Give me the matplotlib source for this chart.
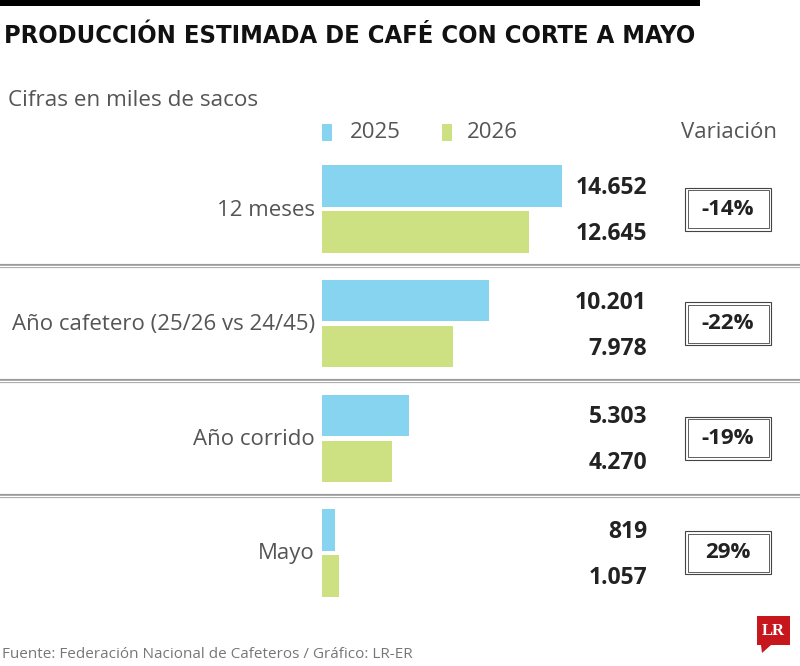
import matplotlib
matplotlib.use("Agg")
import matplotlib.pyplot as plt
from matplotlib.transforms import blended_transform_factory
from matplotlib.patches import Rectangle, Polygon
from matplotlib.lines import Line2D

categories = ["12 meses", "Año cafetero (25/26 vs 24/45)", "Año corrido", "Mayo"]
values_2025 = [14652, 10201, 5303, 819]
values_2026 = [12645, 7978, 4270, 1057]
labels_2025 = ["14.652", "10.201", "5.303", "819"]
labels_2026 = ["12.645", "7.978", "4.270", "1.057"]
variations = ["-14%", "-22%", "-19%", "29%"]

BLUE = "#86d4ef"
GREEN = "#cde082"
GRAY = "#555555"
DARK = "#222222"

W, H = 800, 666
fig = plt.figure(figsize=(W / 100, H / 100), dpi=100)
fig.patch.set_facecolor("white")

def fx(px):
    return px / W

def fy(py):
    return 1 - py / H

REG = ["Open Sans", "DejaVu Sans"]

# bar axes
top_px, bot_px = 209 - 57.3, 553 + 57.3
ax = fig.add_axes([fx(322), fy(bot_px), fx(300), (bot_px - top_px) / H])
ax.set_xlim(0, 14652 * 300 / 240)
ax.set_ylim(3.5, -0.5)
ax.axis("off")

ypos = list(range(len(categories)))
off = 0.2
bh = 0.36
ax.barh([y - off for y in ypos], values_2025, height=bh, color=BLUE, align="center")
ax.barh([y + off for y in ypos], values_2026, height=bh, color=GREEN, align="center")

tr = blended_transform_factory(fig.transFigure, ax.transData)
dy = 2 / 114.67  # small downward nudge for text

for i, y in enumerate(ypos):
    ax.text(fx(315), y + dy / 2, categories[i], transform=tr, ha="right", va="center",
            fontsize=16, color=GRAY, family=REG)
    ax.text(fx(647), y - off + dy, labels_2025[i], transform=tr, ha="right", va="center",
            fontsize=16.5, color=DARK, fontweight="bold", family=REG)
    ax.text(fx(647), y + off + dy, labels_2026[i], transform=tr, ha="right", va="center",
            fontsize=16.5, color=DARK, fontweight="bold", family=REG)
    # variation box (double border)
    bx0, bx1 = fx(685), fx(771)
    bhh = 43 / 114.67
    outer = Rectangle((bx0, y - bhh / 2), bx1 - bx0, bhh, transform=tr,
                      fill=False, edgecolor="#444444", linewidth=0.8, clip_on=False)
    ins_x = 2.5 / W
    ins_y = 2.5 / 114.67
    inner = Rectangle((bx0 + ins_x, y - bhh / 2 + ins_y), bx1 - bx0 - 2 * ins_x,
                      bhh - 2 * ins_y, transform=tr, fill=False,
                      edgecolor="#444444", linewidth=0.6, clip_on=False)
    fig.add_artist(outer)
    fig.add_artist(inner)
    ax.text((bx0 + bx1) / 2, y, variations[i], transform=tr, ha="center", va="center",
            fontsize=16, color=DARK, fontweight="bold", family=REG)

# separators (double gray lines)
for y in [0.5, 1.5, 2.5]:
    fig.add_artist(Line2D([0, 1], [y, y], transform=tr, color="#9a9a9a", linewidth=3))
    fig.add_artist(Line2D([0, 1], [y, y], transform=tr, color="white", linewidth=1))

# top black bar
fig.add_artist(Rectangle((0, fy(6)), fx(700), 6 / H, transform=fig.transFigure,
                         color="black", linewidth=0))

fig.text(fx(4), fy(36), "PRODUCCIÓN ESTIMADA DE CAFÉ CON CORTE A MAYO",
         ha="left", va="center", fontsize=18.3, fontweight="bold", color="#111111",
         family="DejaVu Sans", fontstretch="condensed")
fig.text(fx(8), fy(100), "Cifras en miles de sacos", ha="left", va="center",
         fontsize=16.2, color=GRAY, family=REG)

# legend
fig.add_artist(Rectangle((fx(322), fy(141)), 10 / W, 17 / H, transform=fig.transFigure,
                         color=BLUE, linewidth=0))
fig.text(fx(350), fy(132), "2025", ha="left", va="center", fontsize=16, color=GRAY, family=REG)
fig.add_artist(Rectangle((fx(442), fy(141)), 10 / W, 17 / H, transform=fig.transFigure,
                         color=GREEN, linewidth=0))
fig.text(fx(467), fy(132), "2026", ha="left", va="center", fontsize=16, color=GRAY, family=REG)
fig.text(fx(777), fy(132), "Variación", ha="right", va="center", fontsize=16, color=GRAY, family=REG)

# footer
fig.text(fx(2), fy(655), "Fuente: Federación Nacional de Cafeteros / Gráfico: LR-ER",
         ha="left", va="center", fontsize=11, color="#777777", family=REG)

# LR logo
RED = "#c8161d"
fig.add_artist(Rectangle((fx(757), fy(645)), 33 / W, 29 / H, transform=fig.transFigure,
                         color=RED, linewidth=0))
fig.add_artist(Polygon([(fx(761), fy(645)), (fx(771), fy(645)), (fx(762), fy(653))],
                       closed=True, transform=fig.transFigure, color=RED, linewidth=0))
fig.text(fx(773.5), fy(631), "LR", ha="center", va="center", fontsize=12,
         fontweight="bold", color="white", family=["Liberation Serif", "DejaVu Serif"])

fig.savefig("out.png", dpi=100, facecolor="white")
